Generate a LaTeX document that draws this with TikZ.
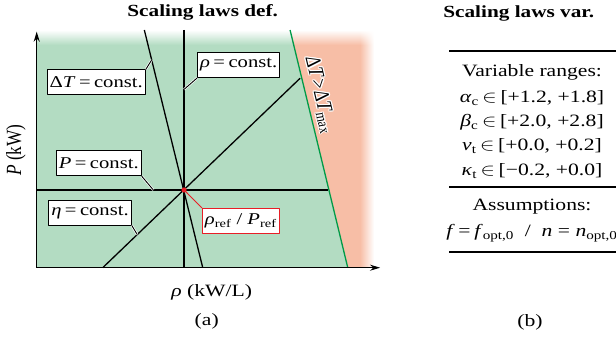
\documentclass[tikz,border=0pt]{standalone}
\usepackage{fontspec}
\setmainfont{Liberation Serif}
\usetikzlibrary{calc,arrows.meta,shadings}
\definecolor{zonegreen}{RGB}{179,220,194}
\definecolor{zonered}{RGB}{247,190,166}
\definecolor{limgreen}{RGB}{0,155,72}
\definecolor{refred}{RGB}{232,30,38}
\newcommand{\dtmaxtext}{Δ\textit{T}\kern1.5pt>\kern1.5ptΔ\textit{T}\textsubscript{max}}
\tikzset{
	law/.style={line width=1.3pt},
	lawbox/.style={draw, fill=white, line width=0.8pt, inner xsep=2pt, minimum height=25pt, font=\fontsize{16.5}{18}\selectfont},
	leader/.style={draw=white, double=black, double distance=0.9pt, line width=0.7pt},
	tabrow/.style={anchor=base},
	tabrule/.style={line width=1.2pt},
	title/.style={font=\fontsize{17}{19}\selectfont\bfseries}
}
\begin{document}
\begin{tikzpicture}[>={Stealth[length=10pt,width=6pt]}, x=0.8pt, y=-1pt, xscale=1.25, every node/.append style={transform shape}, font=\fontsize{17.3}{19}\selectfont, line join=round]
	\useasboundingbox (0,0) rectangle (616,342);
	\coordinate (O) at (36.7,267.7);
	\coordinate (xtip) at (380,267.7);
	\coordinate (ytip) at (36.7,31.7);
	\coordinate (ref) at (184,190);
	\coordinate (limT) at (290,30);
	\coordinate (limM) at (293.6,45);
	\coordinate (limB) at (347.7,267.7);
	\coordinate (pL) at (36.7,190);
	\coordinate (pR) at (328.3,190);
	\coordinate (rhoT) at (184,30);
	\coordinate (rhoB) at (184,267.7);
	\coordinate (dtT) at (144.3,30);
	\coordinate (dtB) at (202.7,267.7);
	\coordinate (etaB) at (102.7,267.7);
	\coordinate (etaT) at (300,78.3);
	% zones
	\fill[zonegreen] (36.7,45) -- (limM) -- (limB) -- (O) -- cycle;
	\shade[top color=white, bottom color=zonegreen] (36.7,30) -- (limT) -- (limM) -- (36.7,45) -- cycle;
	\fill[zonered] (limM) -- (360,45) -- (360,267.7) -- (limB) -- cycle;
	\shade[top color=white, bottom color=zonered] (limT) -- (360,30) -- (360,45) -- (limM) -- cycle;
	\shade[left color=zonered, right color=white] (360,45) rectangle (374,267.7);
	\shade[upper left=white, upper right=white, lower left=zonered, lower right=white] (360,30) rectangle (374,45);
	% scaling laws
	\draw[law] (pL) -- (pR);
	\draw[law] (rhoT) -- (rhoB);
	\draw[law] (dtT) -- (dtB);
	\draw[law] (etaB) -- (etaT);
	\draw[law, limgreen] (limT) -- (limB);
	\draw[law, ->] (O) -- (xtip);
	\draw[law, ->] (O) -- (ytip);
	\foreach \a in {0,45,...,315}
		\node[white, rotate=-79] (halo\a) at ($(320,95)+(\a:1.3)$) {\dtmaxtext};
	\node[rotate=-79] (dtmax) at (320,95) {\dtmaxtext};
	\node[lawbox] (dT) at (96.2,82.3) {Δ\textit{T}\,=\,const.};
	\node[lawbox] (rho) at (238.7,65) {\textit{ρ}\,=\,const.};
	\node[lawbox] (P) at (98.8,163.3) {\textit{P}\,=\,const.};
	\node[lawbox] (eta) at (90,212.5) {\textit{η}\,=\,const.};
	\node[lawbox, draw=refred] (refbox) at (240.8,220.8) {\textit{ρ}\textsubscript{ref} / \textit{P}\textsubscript{ref}};
	\draw[leader] (dT.north east) -- ($(dtT)!0.126!(dtB)$);
	\draw[leader] (rho.south west) -- ($(rhoT)!0.25!(rhoB)$);
	\draw[leader] (P.south east) -- ($(pL)!0.4!(pR)$);
	\draw[leader] (eta.south east) -- ($(etaB)!0.175!(etaT)$);
	\draw[refred, line width=1pt] (ref) -- (refbox.north west);
	\fill[refred] (ref) circle (2.6);
	\node[rotate=90] (ylab) at (16,150) {\textit{P} (kW)};
	\node (xlab) at (211.7,292.7) {\textit{ρ} (kW/L)};
	\node (capa) at (206.7,321.7) {(a)};
	\node[title] (titlea) at (202.7,12.5) {Scaling laws def.};
	% table
	\node[title] (titleb) at (518.8,13) {Scaling laws var.};
	\draw[tabrule] (449.3,51) -- (616,51);
	\draw[tabrule] (449.3,187) -- (616,187);
	\draw[tabrule] (449.3,252) -- (616,252);
	\foreach \y/\t [count=\i] in {77/Variable ranges:,
		102.5/{\textit{α}\textsubscript{c}\,$\in$\,[+1.2, +1.8]},
		126.5/{\textit{β}\textsubscript{c}\,$\in$\,[+2.0, +2.8]},
		151/{\textit{ν}\textsubscript{t}\,$\in$\,[+0.0, +0.2]},
		175.5/{\textit{κ}\textsubscript{t}\,$\in$\,[−0.2, +0.0]},
		210.5/Assumptions:,
		236.5/{\textit{f}\,=\,\textit{f}\textsubscript{opt,0}\enspace/\enspace\textit{n} = \textit{n}\textsubscript{opt,0}}}
		\node[tabrow] (row\i) at (532,\y) {\t};
	\node (capb) at (530,322) {(b)};
\end{tikzpicture}
\end{document}
